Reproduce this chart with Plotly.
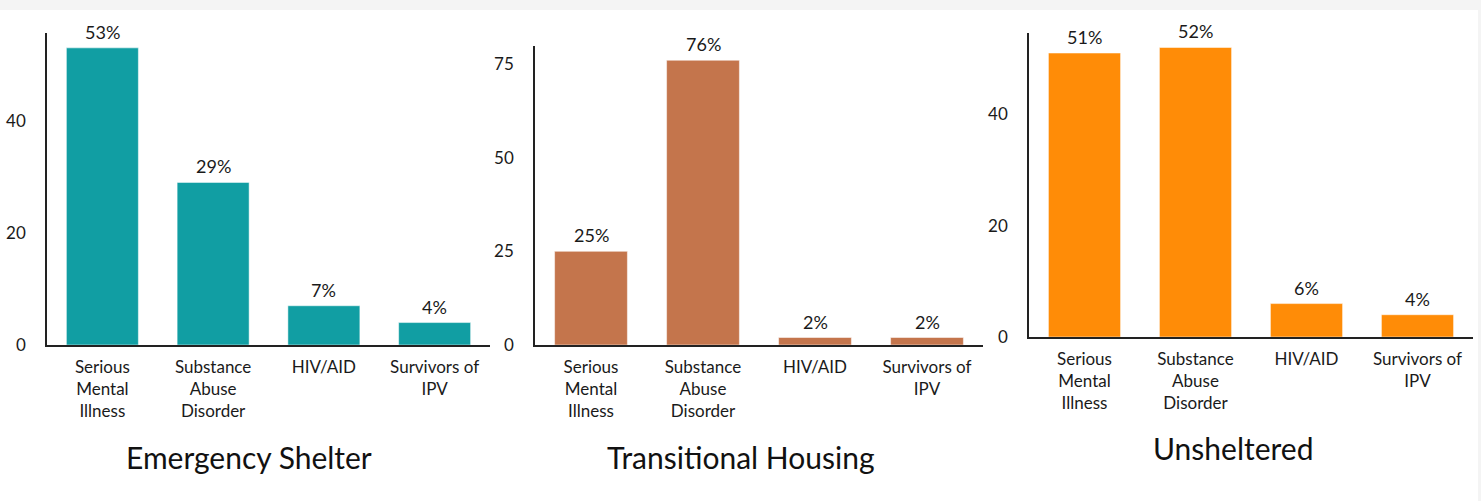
import plotly.graph_objects as go

W, H = 1481, 501

categories = ["Serious<br>Mental<br>Illness", "Substance<br>Abuse<br>Disorder",
              "HIV/AID", "Survivors of<br>IPV"]

panel_titles = ["Emergency Shelter", "Transitional Housing", "Unsheltered"]
emergency_shelter = [53, 29, 7, 4]
transitional_housing = [25, 76, 2, 2]
unsheltered = [51, 52, 6, 4]
series = [emergency_shelter, transitional_housing, unsheltered]
colors = ["#119ea3", "#c4754c", "#ff8c07"]
y_dticks = [20, 25, 20]

# pixel boxes for each plot area: (left, right, top, bottom)
boxes = [(47, 490, 33, 345), (535, 983, 46, 345), (1029, 1473, 33, 337)]
title_pos = [(249, 457), (741, 457), (1233, 448)]

FONT = "Lato, 'Open Sans', sans-serif"
INK = "#1a1a1a"

fig = go.Figure()
layout = dict(
    width=W, height=H, autosize=False,
    margin=dict(l=0, r=0, t=0, b=0, pad=0, autoexpand=False),
    paper_bgcolor="#f4f4f4",
    plot_bgcolor="rgba(0,0,0,0)",
    showlegend=False,
    font=dict(family=FONT, color=INK, size=17),
    bargap=0.35,
    shapes=[dict(type="rect", xref="paper", yref="paper",
                 x0=0, x1=1478 / W, y0=0, y1=(H - 10) / H,
                 fillcolor="white", line=dict(width=0), layer="below")],
    annotations=[],
)

for i, (vals, color) in enumerate(zip(series, colors)):
    n = "" if i == 0 else str(i + 1)
    xa, ya = "x" + n, "y" + n
    fig.add_trace(go.Bar(
        x=categories, y=vals, xaxis=xa, yaxis=ya,
        marker=dict(color=color, line=dict(color="white", width=0.5)),
        hoverinfo="x+y",
    ))
    l, r, t, b = boxes[i]
    layout["xaxis" + n] = dict(
        domain=[l / W, r / W], anchor=ya, automargin=False,
        showline=True, linecolor="#222", linewidth=1.5,
        showgrid=False, zeroline=False, ticks="",
        ticklabelstandoff=6,
        tickfont=dict(size=17, color=INK),
        range=[-0.5, 3.5], type="category",
    )
    layout["yaxis" + n] = dict(
        domain=[(H - b) / H, (H - t) / H], anchor=xa, automargin=False,
        range=[0, max(vals) * 1.05],
        dtick=y_dticks[i], tick0=0,
        showline=True, linecolor="#222", linewidth=1.5,
        showgrid=False, zeroline=False, ticks="",
        ticklabelstandoff=16,
        tickfont=dict(size=17, color=INK),
    )
    for c, v in zip(categories, vals):
        layout["annotations"].append(dict(
            x=c, y=v, xref=xa, yref=ya, text=f"{v}%",
            showarrow=False, yanchor="bottom", yshift=3,
            font=dict(size=18, color=INK),
        ))
    tx, ty = title_pos[i]
    layout["annotations"].append(dict(
        x=tx / W, y=(H - ty) / H, xref="paper", yref="paper",
        text=panel_titles[i], showarrow=False,
        xanchor="center", yanchor="middle",
        font=dict(size=30, color="#111"),
    ))

fig.update_layout(**layout)
fig.write_html("out.html", config={"responsive": False})
